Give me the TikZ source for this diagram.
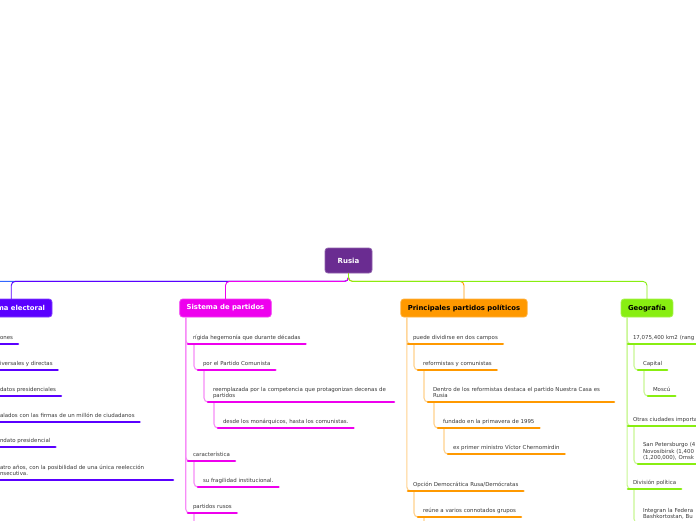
\documentclass[tikz,border=0pt]{standalone}
\usepackage{fontspec}
\setmainfont{DejaVu Sans}
\definecolor{rusiacol}{HTML}{6A2C91}
\definecolor{farcol}{HTML}{3366FF}
\definecolor{elecol}{HTML}{5A00FF}
\definecolor{partcol}{HTML}{EE00EE}
\definecolor{princol}{HTML}{FF9900}
\definecolor{geocol}{HTML}{88EE11}
\tikzset{
  x=1pt, y=-1pt,
  topic/.style={fill=#1, draw=#1!75!white, line width=0.8pt, rounded corners=3pt,
    inner xsep=7pt, minimum height=18pt, outer sep=0pt,
    font=\fontsize{6.85}{8}\selectfont\bfseries},
  leaf/.style={anchor=south west, inner xsep=5pt, inner ysep=3.4pt, outer sep=0pt,
    align=left, text=black!78, font=\fontsize{5.45}{6.2}\selectfont,
    execute at end node={\rule[-1.4pt]{0pt}{1pt}}},
  bar/.style={draw=#1, line width=2.6pt, line cap=round},
  conn/.style={draw=#1!45!white, line width=1.1pt, rounded corners=4pt},
  link/.style={draw=#1, line width=0.9pt, rounded corners=4pt}
}
\begin{document}
\begin{tikzpicture}
\useasboundingbox (0,0) rectangle (696,520);
\fill[white] (0,0) rectangle (696,520);
\clip (0,0) rectangle (696,520);

% root
\node[fill=rusiacol, draw=rusiacol!75!white, line width=0.8pt, rounded corners=3pt,
  minimum width=47pt, minimum height=25pt, text=white,
  font=\fontsize{7}{8}\selectfont\bfseries] (rusia) at (348.5,260.5) {Rusia};

% main topics
\node[topic=elecol, text=white, anchor=east] (electoral) at (52,308) {Sistema electoral};
\node[topic=partcol, text=white] (partidos) at (225.5,308) {Sistema de partidos};
\node[topic=princol, text=black] (principales) at (464,308) {Principales partidos políticos};
\node[topic=geocol, text=black] (geografia) at (647,308) {Geografía};
\coordinate (farleft) at (-80,299);

\draw[link=farcol] (rusia.south) -- ++(0,8) -| (farleft);
\draw[link=elecol] (rusia.south) -- ++(0,8) -| (electoral.north);
\draw[link=partcol] (rusia.south) -- ++(0,8) -| (partidos.north);
\draw[link=princol] (rusia.south) -- ++(0,8) -| (principales.north);
\draw[link=geocol] (rusia.south) -- ++(0,8) -| (geografia.north);

% Sistema electoral
\node[leaf] (e1) at (-5,344) {ones};
\node[leaf] (e2) at (-5,370) {iversales y directas};
\node[leaf] (e3) at (-5,396) {datos presidenciales};
\node[leaf] (e4) at (-5,422) {alados con las firmas de un millón de ciudadanos};
\node[leaf] (e5) at (-5,447) {ndato presidencial};
\node[leaf, text width=168pt] (e6) at (-5,480) {atro años, con la posibilidad de una única reelección\\nsecutiva.};
\foreach \n in {e1,e2,e3,e4,e5,e6}{
  \draw[conn=elecol] (electoral.south west) ++(6,0) |- (\n.south west);
  \draw[bar=elecol] (\n.south west) -- (\n.south east);
}

% Sistema de partidos
\node[leaf] (p1) at (188,344) {rígida hegemonía que durante décadas};
\node[leaf] (p2) at (198,370) {por el Partido Comunista};
\node[leaf, text width=176pt] (p3) at (208,402) {reemplazada por la competencia que protagonizan decenas de\\partidos};
\node[leaf] (p4) at (218,428) {desde los monárquicos, hasta los comunistas.};
\node[leaf] (p5) at (188,461) {característica};
\node[leaf] (p6) at (198,487) {su fragilidad institucional.};
\node[leaf] (p7) at (188,513) {partidos rusos};
\coordinate (p7sub) at (198,540);
\draw[conn=partcol] (partidos.south west) ++(6,0) |- (p1.south west);
\draw[conn=partcol] (partidos.south west) ++(6,0) |- (p5.south west);
\draw[conn=partcol] (partidos.south west) ++(6,0) |- (p7.south west);
\draw[conn=partcol] (p1.south west) ++(6,0) |- (p2.south west);
\draw[conn=partcol] (p2.south west) ++(6,0) |- (p3.south west);
\draw[conn=partcol] (p3.south west) ++(6,0) |- (p4.south west);
\draw[conn=partcol] (p5.south west) ++(6,0) |- (p6.south west);
\draw[conn=partcol] (p7.south west) ++(6,0) |- (p7sub);
\foreach \n in {p1,p2,p3,p4,p5,p6,p7}
  \draw[bar=partcol] (\n.south west) -- (\n.south east);

% Principales partidos politicos
\node[leaf] (r1) at (408,344) {puede dividirse en dos campos};
\node[leaf] (r2) at (418,370) {reformistas y comunistas};
\node[leaf, text width=176pt] (r3) at (428,402) {Dentro de los reformistas destaca el partido Nuestra Casa es\\Rusia};
\node[leaf] (r4) at (438,428) {fundado en la primavera de 1995};
\node[leaf] (r5) at (448,454) {ex primer ministro Víctor Chernomirdin};
\node[leaf] (r6) at (408,491) {Opción Democrática Rusa/Demócratas};
\node[leaf] (r7) at (418,517) {reúne a varios connotados grupos};
\coordinate (r7sub) at (428,545);
\draw[conn=princol] (principales.south west) ++(6,0) |- (r1.south west);
\draw[conn=princol] (principales.south west) ++(6,0) |- (r6.south west);
\draw[conn=princol] (r1.south west) ++(6,0) |- (r2.south west);
\draw[conn=princol] (r2.south west) ++(6,0) |- (r3.south west);
\draw[conn=princol] (r3.south west) ++(6,0) |- (r4.south west);
\draw[conn=princol] (r4.south west) ++(6,0) |- (r5.south west);
\draw[conn=princol] (r6.south west) ++(6,0) |- (r7.south west);
\draw[conn=princol] (r7.south west) ++(6,0) |- (r7sub);
\foreach \n in {r1,r2,r3,r4,r5,r6,r7}
  \draw[bar=princol] (\n.south west) -- (\n.south east);

% Geografia
\node[leaf, text width=70pt] (g1) at (628,344) {17,075,400 km2 (rang};
\node[leaf] (g2) at (638,370) {Capital};
\node[leaf] (g3) at (648,396) {Moscú};
\node[leaf, text width=70pt] (g4) at (628,426) {Otras ciudades importa};
\node[leaf, text width=70pt] (g5) at (638,464) {San Petersburgo (4\\Novosibirsk (1,400\\(1,200,000), Omsk};
\node[leaf] (g6) at (628,489) {División política};
\node[leaf, text width=70pt] (g7) at (638,523) {Integran la Federa\\Bashkortostan, Bu};
\draw[conn=geocol] (geografia.south west) ++(6,0) |- (g1.south west);
\draw[conn=geocol] (geografia.south west) ++(6,0) |- (g4.south west);
\draw[conn=geocol] (geografia.south west) ++(6,0) |- (g6.south west);
\draw[conn=geocol] (g1.south west) ++(6,0) |- (g2.south west);
\draw[conn=geocol] (g2.south west) ++(6,0) |- (g3.south west);
\draw[conn=geocol] (g4.south west) ++(6,0) |- (g5.south west);
\draw[conn=geocol] (g6.south west) ++(6,0) |- (g7.south west);
\foreach \n in {g1,g2,g3,g4,g5,g6,g7}
  \draw[bar=geocol] (\n.south west) -- (\n.south east);
\end{tikzpicture}
\end{document}
